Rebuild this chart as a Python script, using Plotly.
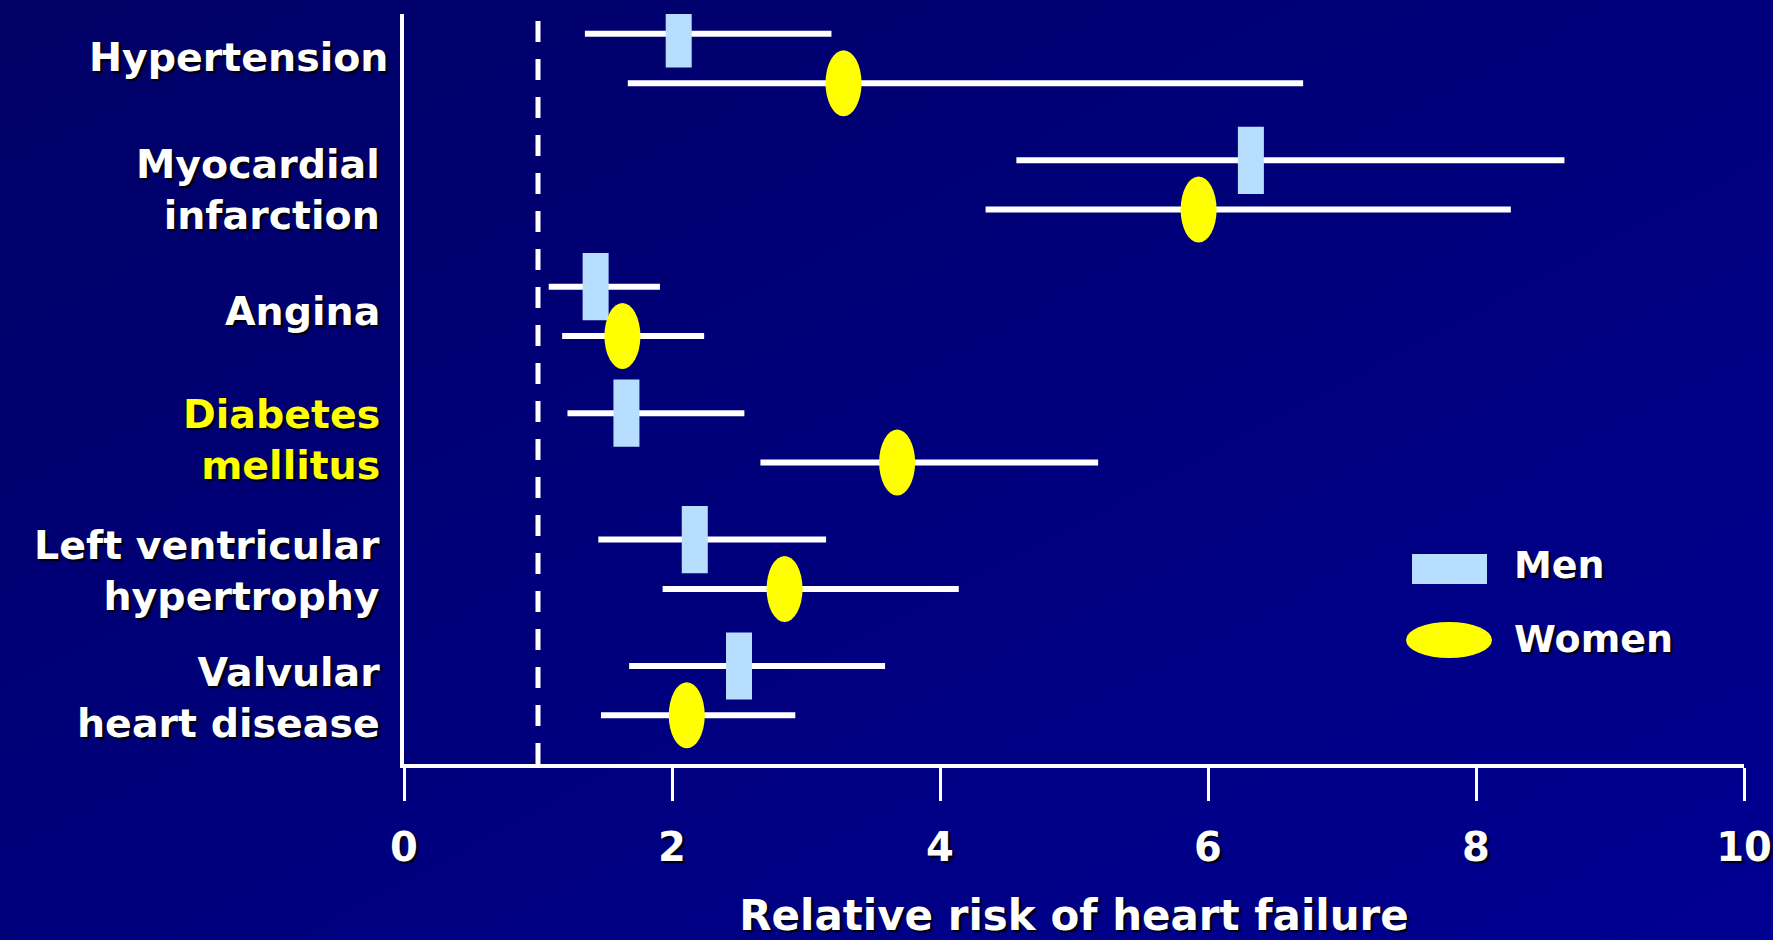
import base64
import plotly.graph_objects as go

# ---------------- data ----------------
categories = ["Hypertension", "Myocardial<br>infarction", "Angina",
              "Diabetes<br>mellitus", "Left ventricular<br>hypertrophy",
              "Valvular<br>heart disease"]
category_colors = ["white", "white", "white", "#FFFF00", "white", "white"]

men_rr = [2.05, 6.32, 1.43, 1.66, 2.17, 2.50]
men_lo = [1.35, 4.57, 1.08, 1.22, 1.45, 1.68]
men_hi = [3.19, 8.66, 1.91, 2.54, 3.15, 3.59]

women_rr = [3.28, 5.93, 1.63, 3.68, 2.84, 2.11]
women_lo = [1.67, 4.34, 1.18, 2.66, 1.93, 1.47]
women_hi = [6.71, 8.26, 2.24, 5.18, 4.14, 2.92]

x_ticks = [0, 2, 4, 6, 8, 10]
reference_rr = 1
x_title = "Relative risk of heart failure"
legend_labels = ["Men", "Women"]

# ---------------- layout constants ----------------
W, H = 1773, 940
L, R, T, B = 404, 29, 14, 176
PW, PH = W - L - R, H - T - B
MEN_COLOR = "#B8DEFF"
WOMEN_COLOR = "#FFFF00"
FONT = "Comic Sans MS, DejaVu Sans, sans-serif"
SHADOW = "2px 2px 2px #000000"

OFF = 0.195
men_y = [i - OFF for i in range(len(categories))]
women_y = [i + OFF for i in range(len(categories))]


def px_x(p):
    return (p - L) / PW


def px_y(p):
    return 1 - (p - T) / PH


fig = go.Figure()

# Men: CI lines + rectangle markers
fig.add_trace(go.Scatter(
    x=men_rr, y=men_y, mode="markers", name="Men", showlegend=False,
    error_x=dict(type="data", symmetric=False,
                 array=[h - c for h, c in zip(men_hi, men_rr)],
                 arrayminus=[c - l for c, l in zip(men_rr, men_lo)],
                 thickness=6, width=0, color="white"),
    marker=dict(symbol="line-ns", size=48,
                line=dict(width=26, color=MEN_COLOR), color=MEN_COLOR),
    hoverinfo="skip",
))

# Women: CI lines (ellipses added as shapes anchored to data)
fig.add_trace(go.Scatter(
    x=women_rr, y=women_y, mode="markers", name="Women", showlegend=False,
    error_x=dict(type="data", symmetric=False,
                 array=[h - c for h, c in zip(women_hi, women_rr)],
                 arrayminus=[c - l for c, l in zip(women_rr, women_lo)],
                 thickness=6, width=0, color="white"),
    marker=dict(size=2, color="rgba(0,0,0,0)"),
    hoverinfo="skip",
))

shapes = []
for xv, yv in zip(women_rr, women_y):
    shapes.append(dict(type="circle", xref="x", yref="y",
                       xsizemode="pixel", ysizemode="pixel",
                       xanchor=xv, yanchor=yv,
                       x0=-18, x1=18, y0=-33, y1=33,
                       fillcolor=WOMEN_COLOR, line=dict(width=0)))

# reference dashed line at RR = 1
shapes.append(dict(type="line", xref="x", yref="paper",
                   x0=reference_rr, x1=reference_rr, y0=px_y(21), y1=0,
                   line=dict(color="white", width=5, dash="21px,17px"),
                   layer="above"))

# legend marks
shapes.append(dict(type="rect", xref="paper", yref="paper",
                   x0=px_x(1412), x1=px_x(1487), y0=px_y(584), y1=px_y(554),
                   fillcolor=MEN_COLOR, line=dict(width=0)))
shapes.append(dict(type="circle", xref="paper", yref="paper",
                   x0=px_x(1406), x1=px_x(1492), y0=px_y(658), y1=px_y(622),
                   fillcolor=WOMEN_COLOR, line=dict(width=0)))

annotations = []
label_shift = [2, -5, 0, -2, -6, -7]
label_xshift = [-14, -22, -22, -22, -22, -22]
for i, (lab, col) in enumerate(zip(categories, category_colors)):
    annotations.append(dict(
        xref="paper", yref="y", x=0, y=i, xanchor="right", yanchor="middle",
        xshift=label_xshift[i], yshift=label_shift[i], text=lab,
        showarrow=False, align="right",
        font=dict(family=FONT, size=39.5, color=col, weight="bold",
                  shadow=SHADOW)))

for lab, yp in zip(legend_labels, [565, 639]):
    annotations.append(dict(
        xref="paper", yref="paper", x=px_x(1512), y=px_y(yp),
        xanchor="left", yanchor="middle", text=lab, showarrow=False,
        font=dict(family=FONT, size=38, color="white", weight="bold",
                  shadow=SHADOW)))

# gradient background as an inline SVG image
svg = ('<svg xmlns="http://www.w3.org/2000/svg" width="1773" height="940">'
       '<defs><linearGradient id="g" x1="0" y1="0" x2="1" y2="1">'
       '<stop offset="0" stop-color="#000066"/>'
       '<stop offset="1" stop-color="#000092"/></linearGradient></defs>'
       '<rect width="1773" height="940" fill="url(#g)"/></svg>')
bg_src = "data:image/svg+xml;base64," + base64.b64encode(svg.encode()).decode()

fig.update_layout(
    width=W, height=H, autosize=False,
    margin=dict(l=L, r=R, t=T, b=B, pad=0, autoexpand=False),
    paper_bgcolor="#00007A", plot_bgcolor="rgba(0,0,0,0)",
    showlegend=False,
    shapes=shapes, annotations=annotations,
    images=[dict(source=bg_src, xref="paper", yref="paper",
                 x=-L / PW, y=1 + T / PH, sizex=W / PW, sizey=H / PH,
                 xanchor="left", yanchor="top", sizing="stretch",
                 layer="below")],
    xaxis=dict(range=[0, 10], tickvals=x_ticks, ticks="outside",
               ticklen=33, tickwidth=3, tickcolor="white",
               showline=True, linewidth=4, linecolor="white",
               showgrid=False, zeroline=False, ticklabelstandoff=12,
               automargin=False,
               tickfont=dict(family=FONT, size=40, color="white",
                             weight="bold", shadow=SHADOW),
               title=dict(text=x_title, standoff=42,
                          font=dict(family=FONT, size=42, color="white",
                                    weight="bold", shadow=SHADOW))),
    yaxis=dict(range=[5.58, -0.352], showline=True, linewidth=4,
               linecolor="white", showgrid=False, zeroline=False,
               showticklabels=False, ticks="", automargin=False),
)

fig.write_html(
    "out.html",
    config={"displayModeBar": False},
    post_script="document.body.style.margin='0';"
                "document.body.style.overflow='hidden';")
